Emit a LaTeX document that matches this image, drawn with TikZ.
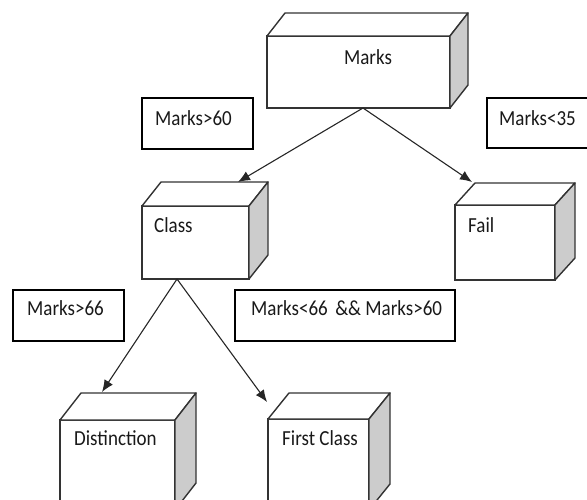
\documentclass[tikz,border=0pt]{standalone}
\usepackage{fontspec}
\setmainfont{Carlito}
\usetikzlibrary{arrows.meta,calc}
\newcommand\tallt[1]{\scalebox{1}[1.13]{#1}}
\newcommand\cubefaces[3]{%
  \filldraw[draw=black!80, line width=1.4pt, fill=white, line join=round]
    (#1.north west) -- ++(#2,-#3) -- ($(#1.north east)+(#2,-#3)$) -- (#1.north east) -- cycle;
  \filldraw[draw=black!80, line width=1.4pt, fill=black!20, line join=round]
    (#1.north east) -- ++(#2,-#3) -- ($(#1.south east)+(#2,-#3)$) -- (#1.south east) -- cycle;}
\begin{document}
\begin{tikzpicture}[x=1pt,y=-1pt,
  face/.style={draw=black!80, line width=1.4pt, fill=white, inner sep=0pt, outer sep=0pt, rectangle},
  cond/.style={draw=black, line width=1.2pt, fill=white, inner sep=0pt, outer sep=0pt, rectangle},
  txt/.style={font=\fontsize{19}{22}\selectfont, inner sep=0pt, anchor=west, text=black!90},
  conn/.style={line width=1.1pt, draw=black!85, -{Latex[length=12pt,width=10pt]}}]
\useasboundingbox (0,0) rectangle (587,500);

% cubes
\node[face, minimum width=183pt, minimum height=72pt] (marks) at (358.5,72) {};
\cubefaces{marks}{18}{23}
\node[face, minimum width=107pt, minimum height=73pt] (class) at (195.5,242.5) {};
\cubefaces{class}{19}{24}
\node[face, minimum width=100pt, minimum height=75pt] (fail) at (505,242.5) {};
\cubefaces{fail}{20}{22}
\node[face, minimum width=115pt, minimum height=90pt] (dist) at (117.5,465) {};
\cubefaces{dist}{21}{27}
\node[face, minimum width=101pt, minimum height=91pt] (first) at (318.5,464.5) {};
\cubefaces{first}{21}{26}

% condition boxes
\node[cond, minimum width=111pt, minimum height=51pt] (c60) at (197.5,123.5) {};
\node[cond, minimum width=113pt, minimum height=50pt] (c35) at (543.5,123) {};
\node[cond, minimum width=111pt, minimum height=51pt] (c66) at (68.5,315.5) {};
\node[cond, minimum width=220pt, minimum height=51pt] (cmid) at (345,315.5) {};

% texts
\node[txt, anchor=center] (marksT) at (368,57) {\tallt{Marks}};
\node[txt] (classT) at (154,225) {\tallt{Class}};
\node[txt] (failT) at (468,225) {\tallt{Fail}};
\node[txt] (distT) at (74,438) {\tallt{Distinction}};
\node[txt] (firstT) at (282,438) {\tallt{First Class}};
\node[txt] (c60T) at (155,118) {\tallt{Marks>60}};
\node[txt] (c35T) at (499,118) {\tallt{Marks<35}};
\node[txt] (c66T) at (27,308) {\tallt{Marks>66}};
\node[txt] (cmidT) at (251,308) {\tallt{Marks<66\, \&\& Marks>60}};

% connectors
\coordinate (marksApex) at ($(marks.south)+(4.5,0)$);
\coordinate (classApex) at ($(class.south)+(-18.5,0)$);
\coordinate (classIn) at (238,182);
\coordinate (failIn) at (472,182);
\coordinate (distIn) at (102,392);
\coordinate (firstIn) at (267,402);
\draw[conn] (marksApex) -- (classIn);
\draw[conn] (marksApex) -- (failIn);
\draw[conn] (classApex) -- (distIn);
\draw[conn] (classApex) -- (firstIn);
\end{tikzpicture}
\end{document}
